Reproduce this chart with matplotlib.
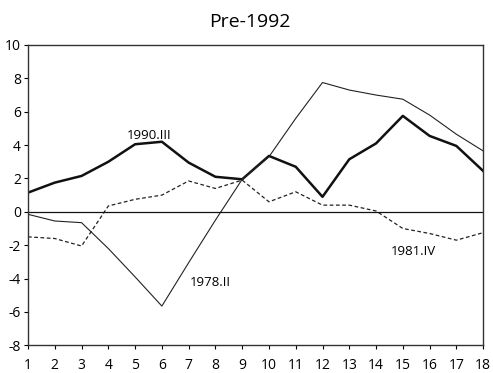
import numpy as np
import matplotlib
matplotlib.use("Agg")
import matplotlib.pyplot as plt

plt.rcParams["font.family"] = ["Open Sans", "DejaVu Sans"]
plt.rcParams["axes.unicode_minus"] = False

# Quarters after the start of each episode
quarters = np.arange(1, 19)

# 1990.III episode (thick line)
ep_1990 = [1.15, 1.75, 2.15, 3.0, 4.05, 4.2, 2.95, 2.1, 1.95,
           3.35, 2.7, 0.9, 3.15, 4.1, 5.75, 4.55, 3.95, 2.45]
# 1978.II episode (thin line)
ep_1978 = [-0.15, -0.55, -0.65, -2.2, -3.9, -5.65, -3.05, -0.5, 1.95,
           3.3, 5.6, 7.75, 7.3, 7.0, 6.75, 5.8, 4.65, 3.65]
# 1981.IV episode (dashed line)
ep_1981 = [-1.5, -1.6, -2.05, 0.35, 0.75, 1.0, 1.85, 1.4, 1.9,
           0.6, 1.2, 0.4, 0.4, 0.05, -1.0, -1.3, -1.7, -1.25]

fig = plt.figure(figsize=(4.93, 3.73), dpi=100)
ax = fig.add_axes([0.0568, 0.0743, 0.9232, 0.8051])

ax.plot(quarters, ep_1990, color="#111111", lw=1.8)
ax.plot(quarters, ep_1978, color="#222222", lw=0.8)
ax.plot(quarters, ep_1981, color="#222222", lw=0.9, ls=(0, (3, 2)))
ax.axhline(0, color="#111111", lw=0.9)

ax.text(5.52, 4.6, "1990.III", fontsize=9.5, ha="center", va="center")
ax.text(7.8, -4.25, "1978.II", fontsize=9.5, ha="center", va="center")
ax.text(15.4, -2.35, "1981.IV", fontsize=9.5, ha="center", va="center")

ax.set_xlim(1, 18)
ax.set_ylim(-8, 10)
ax.set_xticks(quarters)
ax.set_yticks(np.arange(-8, 11, 2))
ax.tick_params(direction="out", length=3, width=0.8, labelsize=10)
ax.tick_params(axis="x", pad=6)
ax.tick_params(axis="y", pad=2)
for sp in ax.spines.values():
    sp.set_linewidth(1.0)
    sp.set_color("#333333")

fig.text(0.507, 0.94, "Pre-1992", fontsize=14, ha="center", va="center")

fig.savefig("out.png", dpi=100)
